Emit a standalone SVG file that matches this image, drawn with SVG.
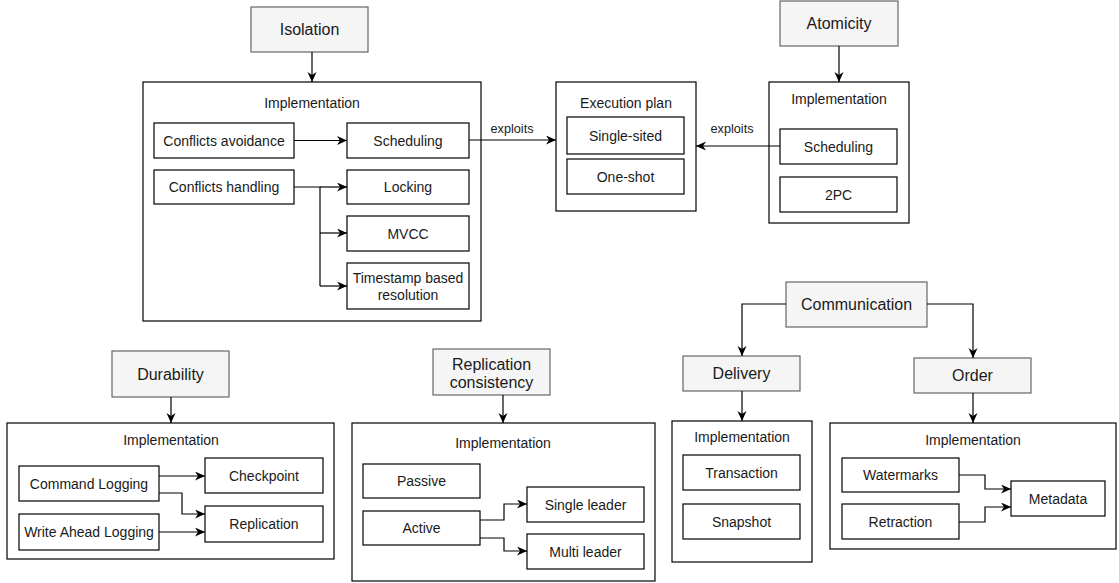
<svg xmlns="http://www.w3.org/2000/svg" width="1119" height="583" viewBox="0 0 1119 583">
  <style>
    text { font-family: "Liberation Sans", Arial, Helvetica, sans-serif; fill: #1a1a1a; text-anchor: middle; }
    .head rect { fill: #f5f5f5; stroke: #666666; stroke-width: 1.2; }
    .head text { font-size: 16px; }
    .frame rect, .item rect { fill: #ffffff; stroke: #000000; stroke-width: 1.2; }
    .frame text, .item text { font-size: 14px; }
    .lbl { font-size: 12.7px; }
    .links path { fill: none; stroke: #000000; stroke-width: 1.2; marker-end: url(#arrow); }
    .links path.plain { marker-end: none; }
  </style>
  <defs>
    <marker id="arrow" markerUnits="userSpaceOnUse" markerWidth="11" markerHeight="10" refX="10" refY="4.5" orient="auto">
      <path d="M0,0 L10,4.5 L0,9 L3,4.5 Z" fill="#000000"/>
    </marker>
  </defs>

  <rect x="0" y="0" width="1119" height="583" fill="#ffffff"/>

  <!-- ===== Isolation ===== -->
  <g id="isolation" class="head"><rect x="251" y="7" width="117" height="45"/><text x="309.5" y="35">Isolation</text></g>
  <g id="isolation-impl" class="frame"><rect x="143" y="82" width="338" height="239"/><text x="312" y="108">Implementation</text></g>
  <g id="conflicts-avoidance" class="item"><rect x="154" y="123" width="140" height="35"/><text x="224" y="145.5">Conflicts avoidance</text></g>
  <g id="iso-scheduling" class="item"><rect x="347" y="123" width="122" height="35"/><text x="408" y="145.5">Scheduling</text></g>
  <g id="conflicts-handling" class="item"><rect x="154" y="170" width="140" height="34"/><text x="224" y="192">Conflicts handling</text></g>
  <g id="locking" class="item"><rect x="347" y="170" width="122" height="34"/><text x="408" y="192">Locking</text></g>
  <g id="mvcc" class="item"><rect x="347" y="216" width="122" height="35"/><text x="408" y="238.5">MVCC</text></g>
  <g id="timestamp" class="item"><rect x="347" y="263" width="122" height="46"/><text x="408" y="283">Timestamp based</text><text x="408" y="300">resolution</text></g>

  <!-- ===== Execution plan ===== -->
  <g id="execution-plan" class="frame"><rect x="556" y="82" width="140" height="129"/><text x="626" y="108">Execution plan</text></g>
  <g id="single-sited" class="item"><rect x="567" y="117" width="117" height="37"/><text x="625.5" y="140.5">Single-sited</text></g>
  <g id="one-shot" class="item"><rect x="567" y="159" width="117" height="35"/><text x="625.5" y="181.5">One-shot</text></g>

  <!-- ===== Atomicity ===== -->
  <g id="atomicity" class="head"><rect x="780" y="1" width="118" height="45"/><text x="839" y="29">Atomicity</text></g>
  <g id="atomicity-impl" class="frame"><rect x="769" y="82" width="140" height="141"/><text x="839" y="104">Implementation</text></g>
  <g id="atom-scheduling" class="item"><rect x="780" y="129" width="117" height="35"/><text x="838.5" y="151.5">Scheduling</text></g>
  <g id="two-pc" class="item"><rect x="780" y="177" width="117" height="35"/><text x="838.5" y="199.5">2PC</text></g>

  <!-- ===== Durability ===== -->
  <g id="durability" class="head"><rect x="112" y="351" width="117" height="46"/><text x="170.5" y="379.5">Durability</text></g>
  <g id="durability-impl" class="frame"><rect x="7" y="423" width="327" height="136"/><text x="171" y="445">Implementation</text></g>
  <g id="command-logging" class="item"><rect x="19" y="466" width="140" height="35"/><text x="89" y="488.5">Command Logging</text></g>
  <g id="wal" class="item"><rect x="19" y="514" width="140" height="36"/><text x="89" y="537">Write Ahead Logging</text></g>
  <g id="checkpoint" class="item"><rect x="205" y="458" width="118" height="35"/><text x="264" y="480.5">Checkpoint</text></g>
  <g id="replication" class="item"><rect x="205" y="506" width="118" height="36"/><text x="264" y="529">Replication</text></g>

  <!-- ===== Replication consistency ===== -->
  <g id="replication-consistency" class="head"><rect x="433" y="349" width="117" height="46"/><text x="491.5" y="370">Replication</text><text x="491.5" y="388">consistency</text></g>
  <g id="repcons-impl" class="frame"><rect x="352" y="423" width="303" height="158"/><text x="503" y="448">Implementation</text></g>
  <g id="passive" class="item"><rect x="363" y="464" width="117" height="34"/><text x="421.5" y="486">Passive</text></g>
  <g id="active" class="item"><rect x="363" y="511" width="117" height="34"/><text x="421.5" y="533">Active</text></g>
  <g id="single-leader" class="item"><rect x="527" y="487" width="117" height="35"/><text x="585.5" y="509.5">Single leader</text></g>
  <g id="multi-leader" class="item"><rect x="527" y="534" width="117" height="35"/><text x="585.5" y="556.5">Multi leader</text></g>

  <!-- ===== Communication ===== -->
  <g id="communication" class="head"><rect x="786" y="282" width="141" height="45"/><text x="856.5" y="310">Communication</text></g>
  <g id="delivery" class="head"><rect x="683" y="356" width="117" height="35"/><text x="741.5" y="379">Delivery</text></g>
  <g id="order" class="head"><rect x="914" y="358" width="117" height="35"/><text x="972.5" y="381">Order</text></g>
  <g id="delivery-impl" class="frame"><rect x="672" y="421" width="140" height="141"/><text x="742" y="442">Implementation</text></g>
  <g id="transaction" class="item"><rect x="683" y="455" width="117" height="35"/><text x="741.5" y="477.5">Transaction</text></g>
  <g id="snapshot" class="item"><rect x="683" y="504" width="117" height="35"/><text x="741.5" y="526.5">Snapshot</text></g>
  <g id="order-impl" class="frame"><rect x="830" y="423" width="286" height="126"/><text x="973" y="445">Implementation</text></g>
  <g id="watermarks" class="item"><rect x="842" y="458" width="117" height="34"/><text x="900.5" y="480">Watermarks</text></g>
  <g id="retraction" class="item"><rect x="842" y="504" width="117" height="35"/><text x="900.5" y="526.5">Retraction</text></g>
  <g id="metadata" class="item"><rect x="1011" y="481" width="94" height="35"/><text x="1058" y="503.5">Metadata</text></g>

  <!-- ===== Connectors ===== -->
  <g id="connectors" class="links">
    <path d="M312,52 V82"/>
    <path d="M294,140.5 H347"/>
    <path class="plain" d="M294,187 H320 V286"/>
    <path d="M320,187 H347"/>
    <path d="M320,233 H347"/>
    <path d="M320,286 H347"/>
    <path d="M469,140 H556"/>
    <path d="M839,46 V82"/>
    <path d="M780,146 H696"/>
    <path d="M171,397 V423"/>
    <path d="M159,476 H205"/>
    <path d="M159,493 H182 V514 H205"/>
    <path d="M159,532 H205"/>
    <path d="M503,395 V423"/>
    <path d="M480,520 H504 V504 H527"/>
    <path d="M480,538 H504 V551 H527"/>
    <path d="M786,304 H742 V356"/>
    <path d="M927,304 H973 V358"/>
    <path d="M742,391 V421"/>
    <path d="M973,393 V423"/>
    <path d="M959,475 H985 V489 H1011"/>
    <path d="M959,522 H985 V507 H1011"/>
  </g>
  <text class="lbl" x="512" y="133">exploits</text>
  <text class="lbl" x="732" y="133">exploits</text>
</svg>
